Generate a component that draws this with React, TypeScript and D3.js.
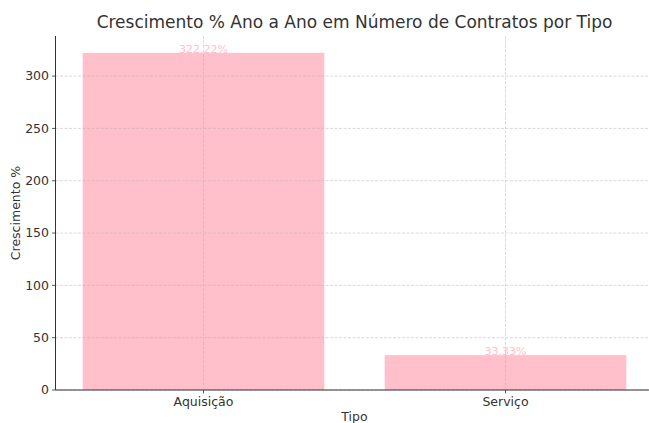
import React from "react";
import * as d3 from "d3";

const categories = ["Aquisição", "Serviço"];
const values = [322.22, 33.33];
const yTicks = [0, 50, 100, 150, 200, 250, 300];

const W = 649;
const H = 423;

export default function App() {
  const x = d3.scaleLinear().domain([-0.49, 1.49]).range([55.5, 653.5]);
  const y = d3.scaleLinear().domain([0, 338.33]).range([390, 36]);
  const barW = x(0.4) - x(-0.4);
  const font = "DejaVu Sans, sans-serif";
  return (
    <svg width={W} height={H} style={{ position: "absolute", left: 0, top: 0 }} fontFamily={font}>
      <rect width={W} height={H} fill="#fff" />
      {categories.map((c, i) => (
        <rect key={c} x={x(i) - barW / 2} y={y(values[i])} width={barW} height={y(0) - y(values[i])} fill="#FFC0CB" />
      ))}
      {yTicks.map((t) => (
        <line key={t} x1={55.5} x2={W} y1={y(t)} y2={y(t)} stroke="#b0b0b0" strokeOpacity={0.6} strokeWidth={0.8} strokeDasharray="3,1.5" />
      ))}
      {categories.map((c, i) => (
        <line key={c} x1={x(i)} x2={x(i)} y1={36} y2={390} stroke="#b0b0b0" strokeOpacity={0.6} strokeWidth={0.8} strokeDasharray="3,1.5" />
      ))}
      {categories.map((c, i) => (
        <text key={c} x={x(i)} y={y(values[i])} textAnchor="middle" fontSize={11} fill="#FFC0CB">
          {values[i].toFixed(2)}%
        </text>
      ))}
      <line x1={55.5} x2={55.5} y1={36} y2={390} stroke="#333" strokeWidth={1} />
      <line x1={55.5} x2={W} y1={390} y2={390} stroke="#333" strokeWidth={1} />
      {yTicks.map((t) => (
        <g key={t}>
          <line x1={52} x2={55.5} y1={y(t)} y2={y(t)} stroke="#333" strokeWidth={0.8} />
          <text x={49} y={y(t)} dy="0.35em" textAnchor="end" fontSize={12.5} fill="#333">{t}</text>
        </g>
      ))}
      {categories.map((c, i) => (
        <g key={c}>
          <line x1={x(i)} x2={x(i)} y1={390} y2={393.5} stroke="#333" strokeWidth={0.8} />
          <text x={x(i)} y={406} textAnchor="middle" fontSize={12.5} fill="#333">{c}</text>
        </g>
      ))}
      <text x={354.5} y={421} textAnchor="middle" fontSize={12.5} fill="#333">Tipo</text>
      <text transform={`translate(20,213) rotate(-90)`} textAnchor="middle" fontSize={12.5} fill="#333">Crescimento %</text>
      <text x={354.5} y={28} textAnchor="middle" fontSize={17} fill="#333">Crescimento % Ano a Ano em Número de Contratos por Tipo</text>
    </svg>
  );
}
